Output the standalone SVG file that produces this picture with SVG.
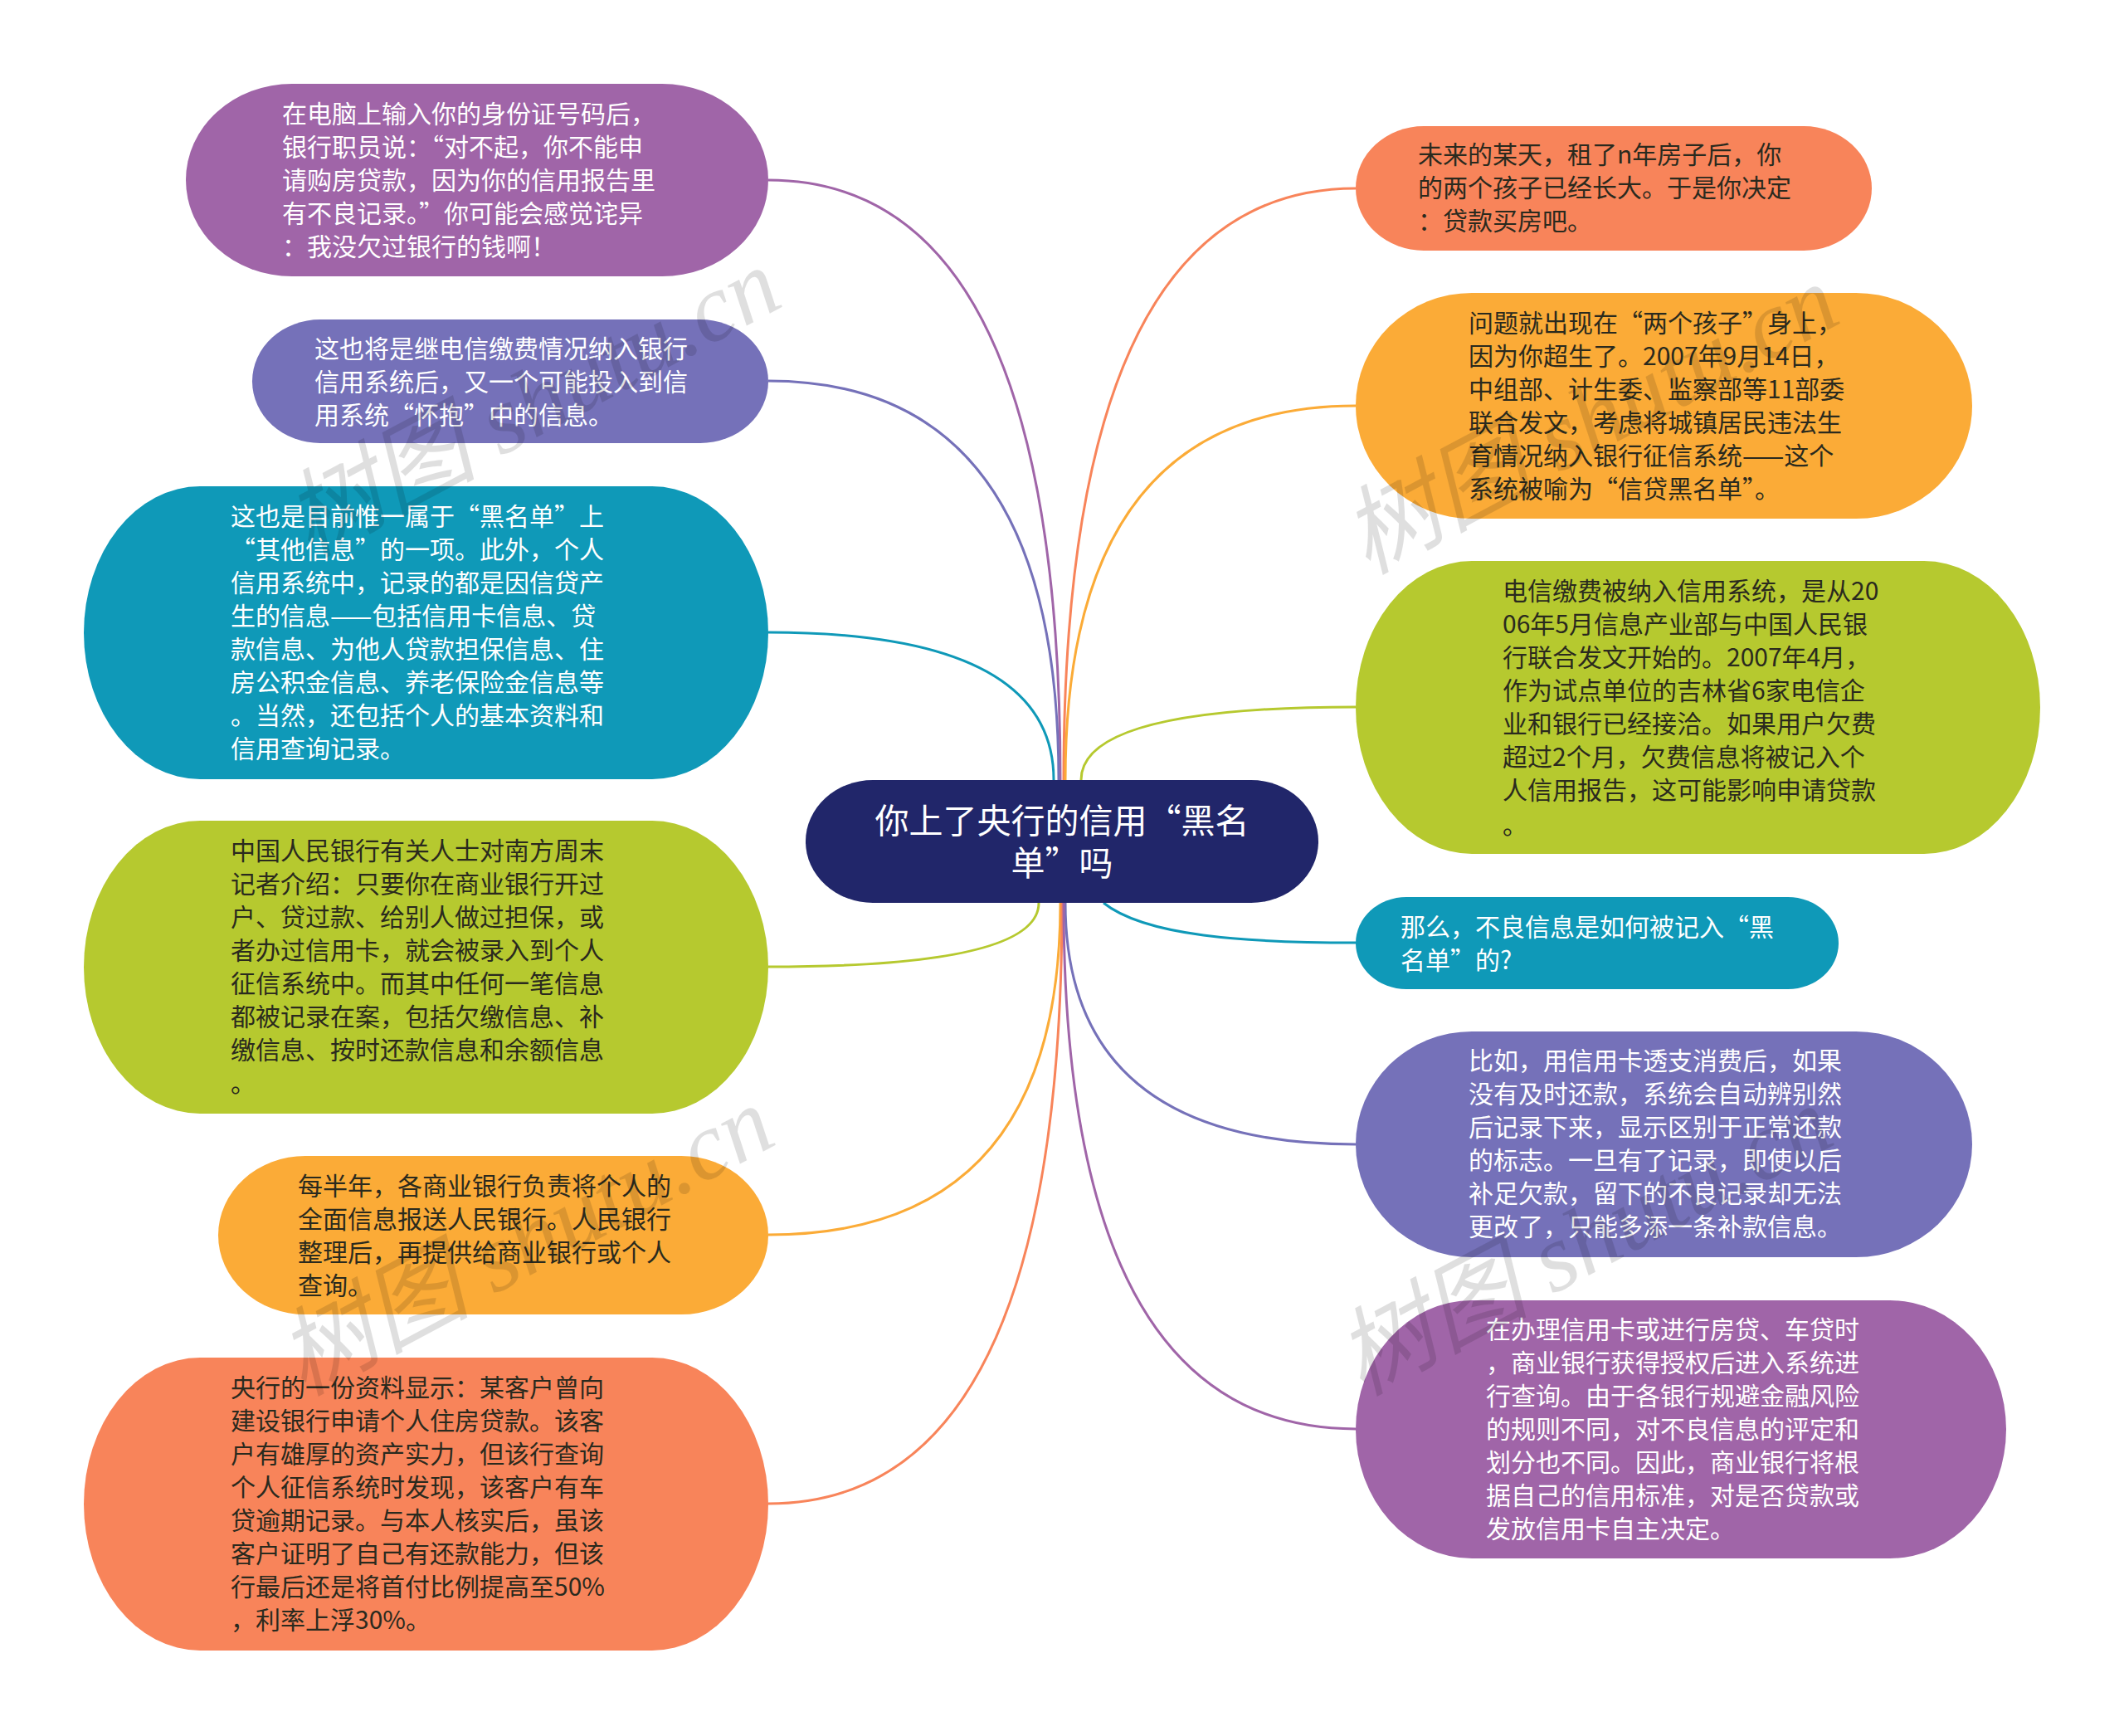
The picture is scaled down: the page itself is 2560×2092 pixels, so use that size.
<svg xmlns="http://www.w3.org/2000/svg" width="2560" height="2092" viewBox="0 0 2560 2092">
<style>
.t{font-family:"Noto Sans CJK SC","Noto Sans",sans-serif;font-size:30px}
.w{fill:#ffffff}
.d{fill:#2a2a1e}
.c{fill:none;stroke-width:3}
.wm{font-family:"Liberation Serif","Noto Sans CJK SC",serif;font-size:116px;fill:#000;opacity:0.12;font-style:italic}
</style>
<rect x="0" y="0" width="2560" height="2092" fill="#ffffff"/>
<g id="connectors">
<path class="c" stroke="#a065a8" d="M1278,940 Q1278,217 926,217"/>
<path class="c" stroke="#7571b9" d="M1276,940 Q1276,459 926,459"/>
<path class="c" stroke="#0f99b8" d="M1270,940 Q1270,762 926,762"/>
<path class="c" stroke="#f8845a" d="M1282,940 Q1282,227 1634,227"/>
<path class="c" stroke="#fbab37" d="M1284,940 Q1284,489 1634,489"/>
<path class="c" stroke="#b6c92f" d="M1303,940 Q1303,852 1634,852"/>
<path class="c" stroke="#b6c92f" d="M1252,1088 Q1252,1165 926,1165"/>
<path class="c" stroke="#fbab37" d="M1278,1088 Q1278,1488 926,1488"/>
<path class="c" stroke="#f8845a" d="M1280,1088 Q1280,1812 926,1812"/>
<path class="c" stroke="#0f99b8" d="M1330,1088 C1380,1128 1500,1136 1634,1136"/>
<path class="c" stroke="#7571b9" d="M1284,1088 Q1284,1379 1634,1379"/>
<path class="c" stroke="#a065a8" d="M1282,1088 Q1282,1722 1634,1722"/>
</g>
<g id="center">
<rect x="971" y="940" width="618" height="148" rx="81" ry="74" fill="#21266a"/>
<text x="1280" y="1004" text-anchor="middle" font-family="Noto Sans CJK SC, sans-serif" font-size="41" fill="#ffffff">你上了央行的信用“黑名</text>
<text x="1280" y="1055" text-anchor="middle" font-family="Noto Sans CJK SC, sans-serif" font-size="41" fill="#ffffff">单”吗</text>
</g>
<g id="L1">
<rect x="224" y="101" width="702" height="232" rx="128" ry="116" fill="#a065a8"/>
<text class="t w" x="340"><tspan x="340" y="148">在电脑上输入你的身份证号码后，</tspan><tspan x="340" y="188">银行职员说：“对不起，你不能申</tspan><tspan x="340" y="228">请购房贷款，因为你的信用报告里</tspan><tspan x="340" y="268">有不良记录。”你可能会感觉诧异</tspan><tspan x="340" y="308">：我没欠过银行的钱啊！</tspan></text>
</g>
<g id="L2">
<rect x="304" y="385" width="622" height="149" rx="82" ry="74.5" fill="#7571b9"/>
<text class="t w"><tspan x="379" y="431">这也将是继电信缴费情况纳入银行</tspan><tspan x="379" y="471">信用系统后，又一个可能投入到信</tspan><tspan x="379" y="511">用系统“怀抱”中的信息。</tspan></text>
</g>
<g id="L3">
<rect x="101" y="586" width="825" height="353" rx="140" ry="176.5" fill="#0f99b8"/>
<text class="t w"><tspan x="278" y="633">这也是目前惟一属于“黑名单”上</tspan><tspan x="278" y="673">“其他信息”的一项。此外，个人</tspan><tspan x="278" y="713">信用系统中，记录的都是因信贷产</tspan><tspan x="278" y="753">生的信息——包括信用卡信息、贷</tspan><tspan x="278" y="793">款信息、为他人贷款担保信息、住</tspan><tspan x="278" y="833">房公积金信息、养老保险金信息等</tspan><tspan x="278" y="873">。当然，还包括个人的基本资料和</tspan><tspan x="278" y="913">信用查询记录。</tspan></text>
</g>
<g id="L4">
<rect x="101" y="989" width="825" height="353" rx="140" ry="176.5" fill="#b6c92f"/>
<text class="t d"><tspan x="278" y="1036">中国人民银行有关人士对南方周末</tspan><tspan x="278" y="1076">记者介绍：只要你在商业银行开过</tspan><tspan x="278" y="1116">户、贷过款、给别人做过担保，或</tspan><tspan x="278" y="1156">者办过信用卡，就会被录入到个人</tspan><tspan x="278" y="1196">征信系统中。而其中任何一笔信息</tspan><tspan x="278" y="1236">都被记录在案，包括欠缴信息、补</tspan><tspan x="278" y="1276">缴信息、按时还款信息和余额信息</tspan><tspan x="278" y="1316">。</tspan></text>
</g>
<g id="L5">
<rect x="263" y="1393" width="663" height="191" rx="105" ry="95.5" fill="#fbab37"/>
<text class="t d"><tspan x="359" y="1440">每半年，各商业银行负责将个人的</tspan><tspan x="359" y="1480">全面信息报送人民银行。人民银行</tspan><tspan x="359" y="1520">整理后，再提供给商业银行或个人</tspan><tspan x="359" y="1560">查询。</tspan></text>
</g>
<g id="L6">
<rect x="101" y="1636" width="825" height="353" rx="140" ry="176.5" fill="#f8845a"/>
<text class="t d"><tspan x="278" y="1683">央行的一份资料显示：某客户曾向</tspan><tspan x="278" y="1723">建设银行申请个人住房贷款。该客</tspan><tspan x="278" y="1763">户有雄厚的资产实力，但该行查询</tspan><tspan x="278" y="1803">个人征信系统时发现，该客户有车</tspan><tspan x="278" y="1843">贷逾期记录。与本人核实后，虽该</tspan><tspan x="278" y="1883">客户证明了自己有还款能力，但该</tspan><tspan x="278" y="1923">行最后还是将首付比例提高至50%</tspan><tspan x="278" y="1963">，利率上浮30%。</tspan></text>
</g>
<g id="R1">
<rect x="1634" y="152" width="622" height="150" rx="82" ry="75" fill="#f8845a"/>
<text class="t d"><tspan x="1709" y="197">未来的某天，租了n年房子后，你</tspan><tspan x="1709" y="237">的两个孩子已经长大。于是你决定</tspan><tspan x="1709" y="277">：贷款买房吧。</tspan></text>
</g>
<g id="R2">
<rect x="1634" y="353" width="743" height="272" rx="140" ry="136" fill="#fbab37"/>
<text class="t d"><tspan x="1770" y="400">问题就出现在“两个孩子”身上，</tspan><tspan x="1770" y="440">因为你超生了。2007年9月14日，</tspan><tspan x="1770" y="480">中组部、计生委、监察部等11部委</tspan><tspan x="1770" y="520">联合发文，考虑将城镇居民违法生</tspan><tspan x="1770" y="560">育情况纳入银行征信系统——这个</tspan><tspan x="1770" y="600">系统被喻为“信贷黑名单”。</tspan></text>
</g>
<g id="R3">
<rect x="1634" y="676" width="825" height="353" rx="140" ry="176.5" fill="#b6c92f"/>
<text class="t d"><tspan x="1811" y="723">电信缴费被纳入信用系统，是从20</tspan><tspan x="1811" y="763">06年5月信息产业部与中国人民银</tspan><tspan x="1811" y="803">行联合发文开始的。2007年4月，</tspan><tspan x="1811" y="843">作为试点单位的吉林省6家电信企</tspan><tspan x="1811" y="883">业和银行已经接洽。如果用户欠费</tspan><tspan x="1811" y="923">超过2个月，欠费信息将被记入个</tspan><tspan x="1811" y="963">人信用报告，这可能影响申请贷款</tspan><tspan x="1811" y="1005">。</tspan></text>
</g>
<g id="R4">
<rect x="1634" y="1081" width="582" height="111" rx="61" ry="55.5" fill="#0f99b8"/>
<text class="t w"><tspan x="1688" y="1128">那么，不良信息是如何被记入“黑</tspan><tspan x="1688" y="1168">名单”的?</tspan></text>
</g>
<g id="R5">
<rect x="1634" y="1243" width="743" height="272" rx="140" ry="136" fill="#7571b9"/>
<text class="t w"><tspan x="1770" y="1289">比如，用信用卡透支消费后，如果</tspan><tspan x="1770" y="1329">没有及时还款，系统会自动辨别然</tspan><tspan x="1770" y="1369">后记录下来，显示区别于正常还款</tspan><tspan x="1770" y="1409">的标志。一旦有了记录，即使以后</tspan><tspan x="1770" y="1449">补足欠款，留下的不良记录却无法</tspan><tspan x="1770" y="1489">更改了，只能多添一条补款信息。</tspan></text>
</g>
<g id="R6">
<rect x="1634" y="1567" width="784" height="311" rx="140" ry="155.5" fill="#a065a8"/>
<text class="t w"><tspan x="1791" y="1613">在办理信用卡或进行房贷、车贷时</tspan><tspan x="1791" y="1653">，商业银行获得授权后进入系统进</tspan><tspan x="1791" y="1693">行查询。由于各银行规避金融风险</tspan><tspan x="1791" y="1733">的规则不同，对不良信息的评定和</tspan><tspan x="1791" y="1773">划分也不同。因此，商业银行将根</tspan><tspan x="1791" y="1813">据自己的信用标准，对是否贷款或</tspan><tspan x="1791" y="1853">发放信用卡自主决定。</tspan></text>
</g>
<g id="watermarks">
<text class="wm" text-anchor="middle" transform="translate(660,520) rotate(-28)">树图 shutu.cn</text>
<text class="wm" text-anchor="middle" transform="translate(1935,540) rotate(-28)">树图 shutu.cn</text>
<text class="wm" text-anchor="middle" transform="translate(652,1530) rotate(-28)">树图 shutu.cn</text>
<text class="wm" text-anchor="middle" transform="translate(1928,1530) rotate(-28)">树图 shutu.cn</text>
</g>
</svg>
